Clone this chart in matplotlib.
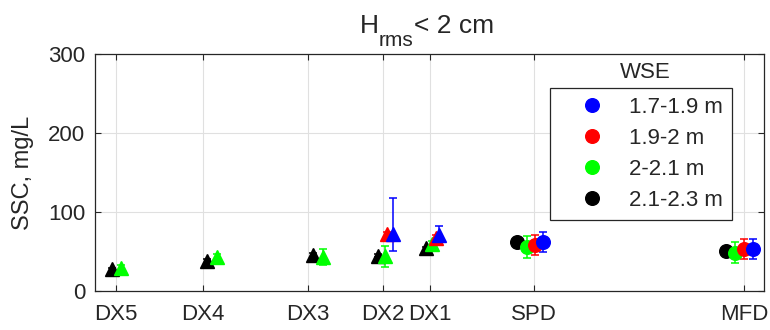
import numpy as np
import matplotlib
matplotlib.use("Agg")
import matplotlib.pyplot as plt
from matplotlib.lines import Line2D

plt.rcParams['font.family'] = ['Liberation Sans', 'DejaVu Sans']

# Stations along the transect (distance, km) and their labels
stations = ["DX5", "DX4", "DX3", "DX2", "DX1", "SPD", "MFD"]
station_km = [0.207, 1.08, 2.13, 2.88, 3.35, 4.39, 6.49]
is_dx = [True, True, True, True, True, False, False]

# Water-surface-elevation classes
wse_labels = ["1.7-1.9 m", "1.9-2 m", "2-2.1 m", "2.1-2.3 m"]

# Mean SSC (mg/L) per class and station; nan = no samples
ssc_blue = [np.nan, np.nan, np.nan, 72.0, 71.0, 62.0, 53.0]
ssc_red = [np.nan, np.nan, np.nan, 72.0, 67.0, 58.0, 53.0]
ssc_green = [29.5, 43.5, 43.5, 44.0, 59.5, 56.0, 48.5]
ssc_black = [27.5, 38.0, 45.5, 44.5, 54.0, 62.0, 51.0]

# Lower / upper error (mg/L)
err_blue_lo = [0, 0, 0, 21.0, 11.0, 13.0, 12.5]
err_blue_hi = [0, 0, 0, 46.0, 11.0, 13.0, 12.5]
err_red = [0, 0, 0, 3.0, 4.0, 13.0, 13.0]
err_green = [3.0, 3.0, 10.0, 13.0, 4.0, 14.0, 13.0]
err_black = [2.0, 2.0, 2.0, 2.0, 2.0, 2.0, 2.0]

# Side-by-side dodge of each class around a station (km)
dodge_blue = [0, 0, 0, 0.10, 0.09, 0.09, 0.09]
dodge_red = [0, 0, 0, 0.04, 0.06, 0.01, 0.0]
dodge_green = [0.05, 0.14, 0.15, 0.02, 0.02, -0.07, -0.09]
dodge_black = [-0.04, 0.04, 0.05, -0.05, -0.04, -0.17, -0.18]

TXT = '#262626'

fig = plt.figure(figsize=(7.7, 3.3), dpi=100)
ax = fig.add_axes([95/770, 1-291/330, (764-95)/770, (291-54)/330])

series = [
    ("k", ssc_black, err_black, err_black, dodge_black),
    ((0, 1, 0), ssc_green, err_green, err_green, dodge_green),
    ((1, 0, 0), ssc_red, err_red, err_red, dodge_red),
    ((0, 0, 1), ssc_blue, err_blue_lo, err_blue_hi, dodge_blue),
]

for color, vals, elo, ehi, dodge in series:
    for i in range(len(stations)):
        if np.isnan(vals[i]):
            continue
        ax.errorbar(station_km[i] + dodge[i], vals[i],
                    yerr=[[elo[i]], [ehi[i]]],
                    fmt='^' if is_dx[i] else 'o', ms=9.8,
                    color=color, mec=color, mfc=color,
                    ecolor=color, elinewidth=1.1, capsize=2.8,
                    capthick=1.1, zorder=3)

ax.set_xlim(0, 6.69)
ax.set_ylim(0, 300)
ax.set_xticks(station_km)
ax.set_xticklabels(stations)
ax.set_yticks([0, 100, 200, 300])
ax.tick_params(direction='in', top=True, right=True, length=4,
               width=0.8, color=TXT, labelsize=16, labelcolor=TXT)
ax.tick_params(axis='y', pad=7)
ax.tick_params(axis='x', pad=9)
ax.grid(True, color='#e0e0e0', linewidth=0.8)
ax.set_axisbelow(True)
for s in ax.spines.values():
    s.set_color(TXT)
    s.set_linewidth(0.9)

ax.set_ylabel("SSC, mg/L", fontsize=17, color=TXT)
ax.yaxis.set_label_coords(-(95-34)/669, 0.5)

# Title with a TeX-style subscript: H, "rms" lowered, then the rest
renderer = fig.canvas.get_renderer()
x0, base = 360.0, 330 - 33.0
pieces = [("H", 19, 0.0), ("rms", 15, -13.0), ("< 2 cm", 19, 0.0)]
for txt, size, dy in pieces:
    t = fig.text(x0 / 770, (base + dy) / 330, txt, fontsize=size,
                 color=TXT, ha='left', va='baseline')
    x0 += t.get_window_extent(renderer).width

handles = [Line2D([], [], ls='none', marker='o', ms=9.8, color=c, mec=c)
           for c in [(0, 0, 1), (1, 0, 0), (0, 1, 0), 'k']]
leg = ax.legend(handles, wse_labels, loc='upper left',
                bbox_to_anchor=((550-95)/669, (291-88)/237),
                fontsize=16, frameon=True, fancybox=False,
                edgecolor=TXT, framealpha=1, handletextpad=0.15,
                handlelength=3.0, borderpad=0.4, labelspacing=0.45,
                borderaxespad=0)
leg.get_frame().set_linewidth(0.9)
for t in leg.get_texts():
    t.set_color(TXT)
ax.text((645-95)/669, (291-72)/237, "WSE", transform=ax.transAxes,
        ha='center', va='center', fontsize=16, color=TXT)

fig.savefig("out.png", dpi=100)
